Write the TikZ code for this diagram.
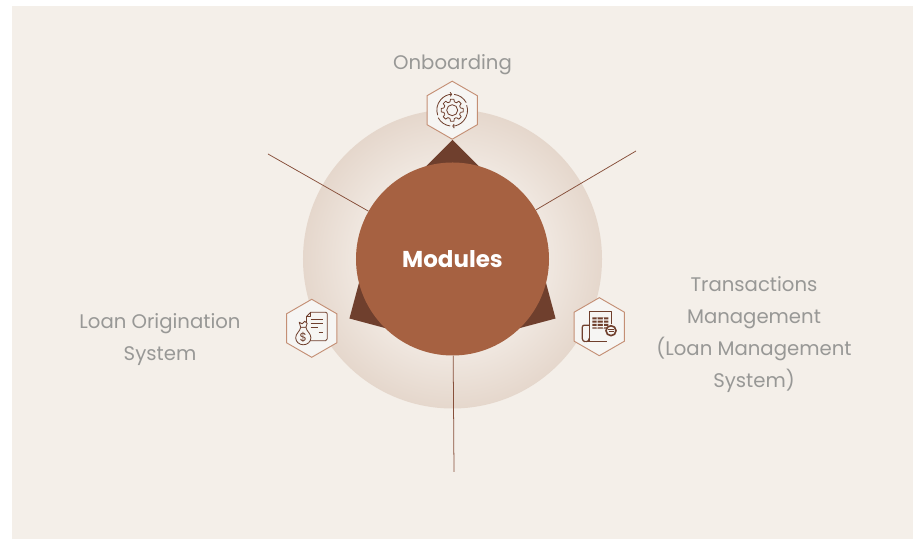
\documentclass[tikz,border=0pt]{standalone}
\usepackage{fontspec}
\setmainfont{Poppins}
\usetikzlibrary{shapes.geometric,arrows.meta}
\definecolor{panelbg}{HTML}{F4EFE9}
\definecolor{ringin}{HTML}{F1E9E2}
\definecolor{ringout}{HTML}{E5D7CC}
\definecolor{hubbrown}{HTML}{A66141}
\definecolor{tribrown}{HTML}{6F3F2D}
\definecolor{linebrown}{HTML}{87503B}
\definecolor{hexedge}{HTML}{C48F75}
\definecolor{hexfill}{HTML}{F6F5F3}
\definecolor{labelgrey}{HTML}{989896}
\pgfdeclareradialshading{ringshade}{\pgfpointorigin}{color(0bp)=(ringin); color(15bp)=(ringin); color(25bp)=(ringout); color(50bp)=(ringout)}
\tikzset{
    ring/.style={circle, shading=ringshade, minimum size=8.97cm, inner sep=0pt},
    hub/.style={circle, fill=hubbrown, text=white, minimum size=5.79cm, inner sep=0pt, font=\fontsize{19.6}{24}\selectfont\bfseries},
    hexbox/.style={regular polygon, regular polygon sides=6, shape border rotate=30, draw=hexedge, line width=0.8pt, fill=hexfill, minimum size=1.74cm, inner sep=0pt, outer sep=0pt},
    modlabel/.style={text=labelgrey, align=center, font=\fontsize{16.8}{27.3}\selectfont},
    spoke/.style={draw=linebrown, line width=0.65pt},
    wedge/.style={fill=tribrown},
    ico/.style={draw=tribrown, line width=0.7pt, line join=round},
    gearicon/.pic={
        \foreach \a in {0,45,...,315} {
            \draw[ico, rotate=\a] (-2.2,-8.3)--(-1.7,-11)--(1.7,-11)--(2.2,-8.3) arc (-74.6:-60.4:8.6);
        }
        \draw[ico] (0,0) circle (5.5);
        \draw[ico, -{Straight Barb[length=1.2pt,width=3.4pt]}] (-14.5,-5) arc (199:92:15.8);
        \draw[ico, -{Straight Barb[length=1.2pt,width=3.4pt]}] (14.5,5) arc (19:-88:15.8);
        \draw[ico] (2,15.8) arc (83:28:15.8);
        \draw[ico] (-2,-15.8) arc (263:208:15.8);
    },
    loanicon/.pic={
        \draw[ico] (-5,12) -- (-1,16) -- (14,16) to[out=0,in=90] (15.6,14) -- (15.6,-10.5) to[out=-90,in=0] (14,-12.4) -- (-1.5,-12.4);
        \draw[ico] (-5,12) -- (-1.5,12) -- (-1.5,16);
        \draw[ico] (-5,12) -- (-5,4);
        \draw[ico, line width=0.9pt] (-1,8.5)--(11.5,8.5) (-1,4.5)--(11.5,4.5);
        \draw[ico] (-1,0.5)--(6,0.5);
        \draw[ico, line width=1pt] (7,-4.5)--(11.5,-4.5);
        \draw[ico, fill=hexfill] (-11,1) to[out=-100,in=90] (-16,-9.5) to[out=-90,in=180] (-8.4,-16.5) to[out=0,in=-90] (-0.8,-9.5) to[out=90,in=-80] (-5.8,1) -- cycle;
        \draw[ico, fill=hexfill] (-12.5,6) -- (-9.5,4.5) -- (-7,7) -- (-4.5,5) -- (-5.8,1) -- (-11,1) -- cycle;
        \node[inner sep=0pt, text=tribrown, font=\fontsize{10}{12}\selectfont] (loanDollar) at (-8.4,-9.5) {\$};
    },
    reporticon/.pic={
        \draw[ico, line width=1.1pt] (-10,-15) -- (-10,15) -- (12.5,15) -- (12.5,3);
        \draw[ico, line width=1.1pt] (-15,-15) -- (8,-15);
        \draw[ico, line width=1.1pt] (-17,0) to[out=90,in=180] (-14,1.5) -- (-10,1.5);
        \draw[ico, line width=1.1pt] (-17,0) -- (-17,-12) to[out=-90,in=180] (-14,-15);
        \draw[ico, line width=1.1pt] (-13,-15) to[out=0,in=-90] (-10,-11.5);
        \fill[tribrown] (-7,9.3) rectangle (9,7.4) (-7,6) rectangle (9,4.1) (-7,2.7) rectangle (9,0.8) (-7,-0.6) rectangle (9,-2);
        \fill[hexfill] (-2.6,9.3) rectangle (-1.7,-2) (3.6,9.3) rectangle (4.5,-2);
        \draw[ico, fill=hexfill, line width=1.4pt] (11.7,-4) circle (5);
        \draw[ico, line width=0.9pt] (8.8,-3.2)--(14.2,-3.2) (9.2,-5)--(14.6,-5);
    }
}
\begin{document}
\begin{tikzpicture}[x=0.03cm, y=0.03cm]
    \useasboundingbox (0,0) rectangle (913,539);
    \fill[panelbg] (12,0) rectangle (913,533);

    \node[ring] (outerRing) at (452.5,280) {};

    % pointed corners behind the hub
    \foreach \a in {90,210,330} {
        \fill[wedge, shift={(452.5,280)}, rotate=\a] (119,0)--(70,49)--(70,-49)--cycle;
    }

    \node[hub] (modules) at (452.5,280) {Modules};

    \coordinate (endLeft) at (268,385);
    \coordinate (endRight) at (636,388);
    \coordinate (endBottom) at (454,67);
    \draw[spoke] (modules)--(endLeft);
    \draw[spoke] (modules)--(endRight);
    \draw[spoke] (modules)--(endBottom);

    \node[hexbox] (hexOnboard) at (452.2,428.8) {};
    \node[hexbox] (hexLoan) at (311.7,210.7) {};
    \node[hexbox] (hexTrans) at (599.3,212.3) {};
    \pic at (hexOnboard) {gearicon};
    \pic at (hexLoan) {loanicon};
    \pic at (hexTrans) {reporticon};

    \node[modlabel] (onboardText) at (452.5,474) {Onboarding};
    \node[modlabel] (loanText) at (160,199) {Loan Origination\\System};
    \node[modlabel] (transText) at (754,204) {Transactions\\Management\\(Loan Management\\System)};
\end{tikzpicture}
\end{document}
